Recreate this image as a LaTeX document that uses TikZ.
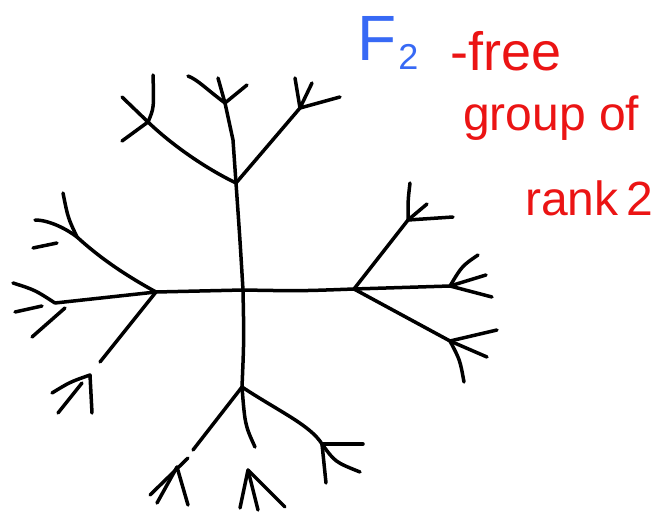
\documentclass[tikz,border=0pt]{standalone}
\usepackage{fontspec}
\setmainfont{Liberation Sans}
\definecolor{penblue}{RGB}{55,105,245}
\definecolor{penred}{RGB}{235,20,20}
\begin{document}
\begin{tikzpicture}[x=1pt,y=-1pt,
  edge/.style={line width=3.5pt,line cap=round,line join=round},
  redtxt/.style={text=penred,inner sep=0pt,anchor=base west,font=\fontsize{48}{48}\selectfont},
  bluetxt/.style={text=penblue,inner sep=0pt,anchor=base west,font=\fontsize{64}{64}\selectfont}]
\useasboundingbox (0,0) rectangle (665,514);
% main vertices
\coordinate (O) at (243,290);
\coordinate (T) at (236,183);
\coordinate (L) at (156,292);
\coordinate (R) at (354,289);
\coordinate (B) at (242,387);
% second level
\coordinate (TL) at (148,122);
\coordinate (TM) at (225,103);
\coordinate (TR) at (300,108);
\coordinate (LU) at (77,237);
\coordinate (LL) at (55,303);
\coordinate (LD) at (100,362);
\coordinate (RU) at (408,220);
\coordinate (RR) at (450,286);
\coordinate (RD) at (450,341);
\coordinate (BL) at (193,450);
\coordinate (BM) at (255,447);
\coordinate (BR) at (322,444);
% leaves
\coordinate (tl1) at (122,97);
\coordinate (tl2) at (153,75);
\coordinate (tl3) at (122,141);
\coordinate (tm1) at (188,76);
\coordinate (tm2) at (218,78);
\coordinate (tm3) at (247,85);
\coordinate (tr1) at (295,78);
\coordinate (tr2) at (312,83);
\coordinate (tr3) at (340,97);
\coordinate (lu1) at (63,193);
\coordinate (lu2) at (35,220);
\coordinate (lu3a) at (33,248);
\coordinate (lu3b) at (57,243);
\coordinate (ll1) at (13,283);
\coordinate (ll2a) at (42,306);
\coordinate (ll2) at (15,312);
\coordinate (ll3a) at (65,308);
\coordinate (ll3) at (32,337);
\coordinate (ld0) at (90,375);
\coordinate (ld1) at (52,393);
\coordinate (ld2) at (92,413);
\coordinate (ld3a) at (82,383);
\coordinate (ld3) at (58,413);
\coordinate (ru1) at (410,183);
\coordinate (ru2) at (427,204);
\coordinate (ru3) at (453,217);
\coordinate (rr1) at (478,255);
\coordinate (rr2) at (486,275);
\coordinate (rr3) at (492,297);
\coordinate (rd1) at (497,330);
\coordinate (rd2) at (487,357);
\coordinate (rd3) at (464,382);
\coordinate (bl0) at (177,467);
\coordinate (bl1a) at (188,458);
\coordinate (bl1) at (150,495);
\coordinate (bl2) at (157,503);
\coordinate (bl3) at (188,505);
\coordinate (bm0) at (248,470);
\coordinate (bm1) at (240,508);
\coordinate (bm2) at (258,510);
\coordinate (bm3) at (285,507);
\coordinate (br1) at (363,444);
\coordinate (br2) at (326,483);
\coordinate (br3) at (360,472);

% central cross
\draw[edge] (T) .. controls (240,240) .. (O) .. controls (244,340) .. (B);
\draw[edge] (L) .. controls (200,291) .. (O) .. controls (300,291) .. (R);
% top
\draw[edge] (T) .. controls (205,168) and (172,145) .. (TL);
\draw[edge] (T) -- (233,140) -- (TM);
\draw[edge] (T) -- (TR);
\draw[edge] (TL) -- (tl1);
\draw[edge] (TL) .. controls (154,108) .. (tl2);
\draw[edge] (TL) -- (tl3);
\draw[edge] (TM) .. controls (205,88) and (198,80) .. (tm1);
\draw[edge] (TM) -- (tm2);
\draw[edge] (TM) -- (tm3);
\draw[edge] (TR) -- (tr1);
\draw[edge] (TR) -- (tr2);
\draw[edge] (TR) -- (tr3);
% left
\draw[edge] (L) .. controls (125,275) and (100,258) .. (LU);
\draw[edge] (L) -- (LL);
\draw[edge] (L) -- (LD);
\draw[edge] (LU) .. controls (68,218) .. (lu1);
\draw[edge] (LU) .. controls (68,230) and (50,220) .. (lu2);
\draw[edge] (lu3a) -- (lu3b);
\draw[edge] (LL) .. controls (35,290) .. (ll1);
\draw[edge] (ll2a) -- (ll2);
\draw[edge] (ll3a) -- (ll3);
\draw[edge] (ld1) .. controls (70,382) .. (ld0) -- (ld2);
\draw[edge] (ld3a) -- (ld3);
% right
\draw[edge] (R) -- (RU);
\draw[edge] (R) -- (RR);
\draw[edge] (R) -- (RD);
\draw[edge] (RU) .. controls (408,200) .. (ru1);
\draw[edge] (RU) -- (ru2);
\draw[edge] (RU) -- (ru3);
\draw[edge] (RR) .. controls (462,266) .. (rr1);
\draw[edge] (RR) -- (rr2);
\draw[edge] (RR) -- (rr3);
\draw[edge] (RD) -- (rd1);
\draw[edge] (RD) -- (rd2);
\draw[edge] (RD) .. controls (460,360) .. (rd3);
% bottom
\draw[edge] (B) -- (BL);
\draw[edge] (B) .. controls (245,425) .. (BM);
\draw[edge] (B) .. controls (280,412) and (310,425) .. (BR);
\draw[edge] (bl1a) -- (bl1);
\draw[edge] (bl0) -- (bl2);
\draw[edge] (bl0) -- (bl3);
\draw[edge] (bm0) -- (bm1);
\draw[edge] (bm0) -- (bm2);
\draw[edge] (bm0) -- (bm3);
\draw[edge] (BR) -- (br1);
\draw[edge] (BR) -- (br2);
\draw[edge] (BR) .. controls (335,462) .. (br3);
% labels
\node[bluetxt] (f2) at (357,60) {F\hspace{2pt}\raisebox{-9pt}{\fontsize{36}{36}\selectfont 2}};
\node[redtxt,font=\fontsize{54}{54}\selectfont] (free) at (450,70) {-free};
\node[redtxt] (grp) at (463,130) {group of};
\node[redtxt] (rank) at (525,215) {rank\,2};
\end{tikzpicture}
\end{document}
